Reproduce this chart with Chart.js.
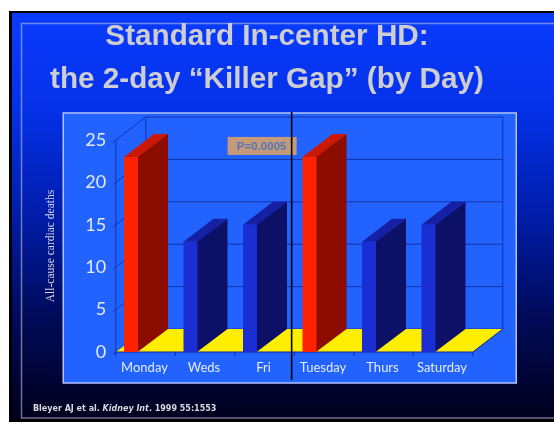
<!DOCTYPE html>
<html><head><meta charset="utf-8">
<script src="https://cdn.jsdelivr.net/npm/chart.js@4.4.1/dist/chart.umd.min.js"></script>
<style>html,body{margin:0;padding:0;background:#fff;}canvas{display:block;}</style>
</head><body>
<canvas id="c" width="554" height="422"></canvas>
<script>
// ---- data ----
const categories = ['Monday', 'Weds', 'Fri', 'Tuesday', 'Thurs', 'Saturday'];
const deaths = [23, 13, 15, 23, 13, 15];
const yTicks = [0, 5, 10, 15, 20, 25];
const gapDays = ['Monday', 'Tuesday'];
const titleLines = ['Standard In-center HD:', 'the 2-day \u201cKiller Gap\u201d (by Day)'];
const yTitle = 'All-cause cardiac deaths';
const pLabel = 'P=0.0005';
const citation = [['Bleyer AJ et al. ', 'bold'], ['Kidney Int', 'italic bold'], ['. 1999 55:1553', 'bold']];

// ---- styles ----
const RED = {front: '#ff2200', side: '#8c0c00', top: '#cc1800'};
const BLUE = {front: '#1a2ed4', side: '#0c1066', top: '#1620a4'};
const pal = i => gapDays.includes(categories[i]) ? RED : BLUE;
const DX = 30, DY = -23;
const GRID = '#1434ac';

const deco = {
  id: 'deco',
  afterLayout(chart) {
    const tb = chart.titleBlock;
    tb.left = 0; tb.right = 534; tb.width = 534;
  },
  beforeDraw(chart) {
    const {ctx, chartArea: ca, width, height} = chart;
    ctx.save();
    ctx.fillStyle = '#ffffff'; ctx.fillRect(0, 0, width, height);
    ctx.fillStyle = '#000000'; ctx.fillRect(9, 11, width - 9, height - 11);
    const g = ctx.createLinearGradient(0, 13, 0, 420);
    g.addColorStop(0, '#0a3cff');
    g.addColorStop(0.25, '#0430e6');
    g.addColorStop(0.5, '#001ca8');
    g.addColorStop(0.75, '#000a58');
    g.addColorStop(1, '#00001c');
    ctx.fillStyle = g; ctx.fillRect(12, 13, width - 12, 406);
    ctx.strokeStyle = 'rgba(185,190,215,0.6)'; ctx.lineWidth = 1.5;
    ctx.strokeRect(21.5, 23.5, width + 10, 394.5);
    const pl = ca.left - 38, pr = ca.right + 58, pt = ca.top - 27, pb = ca.bottom + 31;
    ctx.fillStyle = '#2262ff'; ctx.fillRect(pl, pt, pr - pl, pb - pt);
    ctx.strokeStyle = '#b4c4ff'; ctx.lineWidth = 1.5; ctx.strokeRect(pl, pt, pr - pl, pb - pt);
    ctx.restore();
  },
  beforeDatasetsDraw(chart) {
    const {ctx, scales: {x, y}} = chart;
    const w = (x.right - x.left) / categories.length;
    const ax = x.left + 0.245 * w, axR = x.right + 0.245 * w;
    const y0 = y.getPixelForValue(0), yTop = y.getPixelForValue(yTicks[yTicks.length - 1]);
    ctx.save();
    ctx.strokeStyle = GRID; ctx.lineWidth = 1;
    yTicks.forEach(v => {
      const py = y.getPixelForValue(v);
      ctx.beginPath();
      ctx.moveTo(ax - 3, py + 2.3); ctx.lineTo(ax + DX, py + DY); ctx.lineTo(axR + DX, py + DY);
      ctx.stroke();
    });
    ctx.beginPath();
    ctx.moveTo(ax + DX, yTop + DY); ctx.lineTo(ax + DX, y0 + DY);
    ctx.moveTo(axR + DX, yTop + DY); ctx.lineTo(axR + DX, y0 + DY);
    ctx.moveTo(ax, yTop); ctx.lineTo(ax, y0);
    ctx.stroke();
    ctx.fillStyle = '#ffee00';
    ctx.beginPath();
    ctx.moveTo(ax, y0); ctx.lineTo(axR, y0); ctx.lineTo(axR + DX, y0 + DY); ctx.lineTo(ax + DX, y0 + DY);
    ctx.closePath(); ctx.fill();
    ctx.strokeStyle = '#10249a';
    ctx.beginPath();
    ctx.moveTo(ax, y0); ctx.lineTo(axR, y0); ctx.lineTo(axR + DX, y0 + DY);
    for (let k = 0; k <= categories.length; k++) {
      ctx.moveTo(ax + k * w, y0); ctx.lineTo(ax + k * w, y0 + 4);
    }
    ctx.stroke();
    chart.getDatasetMeta(0).data.forEach((b, i) => {
      const p = pal(i), hw = b.width / 2;
      ctx.fillStyle = p.side;
      ctx.beginPath();
      ctx.moveTo(b.x + hw - 0.5, b.y); ctx.lineTo(b.x + hw + DX, b.y + DY);
      ctx.lineTo(b.x + hw + DX, b.base + DY); ctx.lineTo(b.x + hw - 0.5, b.base);
      ctx.closePath(); ctx.fill();
      ctx.fillStyle = p.top;
      ctx.beginPath();
      ctx.moveTo(b.x - hw, b.y); ctx.lineTo(b.x + hw, b.y);
      ctx.lineTo(b.x + hw + DX, b.y + DY); ctx.lineTo(b.x - hw + DX, b.y + DY);
      ctx.closePath(); ctx.fill();
    });
    ctx.restore();
  },
  afterDatasetsDraw(chart) {
    const {ctx, scales: {x, y}} = chart;
    const w = (x.right - x.left) / categories.length;
    const lx = x.getPixelForValue(2.5) + 0.2 * w;
    const py = y.getPixelForValue(24.3);
    ctx.save();
    ctx.fillStyle = '#c49a7a';
    ctx.fillRect(lx - 64, py - 9, 69, 18);
    ctx.fillStyle = '#5676b4';
    ctx.font = 'bold 11.5px "Liberation Sans", Arial, sans-serif';
    ctx.textAlign = 'center'; ctx.textBaseline = 'middle';
    ctx.fillText(pLabel, lx - 30, py + 0.5);
    ctx.strokeStyle = '#000000'; ctx.lineWidth = 1.6;
    ctx.beginPath(); ctx.moveTo(lx, chart.chartArea.top - 28); ctx.lineTo(lx, chart.chartArea.bottom + 28); ctx.stroke();
    let cx = 33;
    ctx.textAlign = 'left'; ctx.textBaseline = 'alphabetic';
    ctx.fillStyle = '#d8d8de';
    citation.forEach(([t, st]) => {
      ctx.font = st + ' 8px "DejaVu Sans", Verdana, sans-serif';
      ctx.fillText(t, cx, 411);
      cx += ctx.measureText(t).width;
    });
    ctx.restore();
  }
};

new Chart(document.getElementById('c'), {
  type: 'bar',
  data: {
    labels: categories,
    datasets: [{
      label: yTitle,
      data: deaths,
      backgroundColor: categories.map((c, i) => pal(i).front),
      borderWidth: 0,
      barPercentage: 0.235,
      categoryPercentage: 1
    }]
  },
  options: {
    responsive: false,
    animation: false,
    devicePixelRatio: 1,
    layout: {padding: {left: 0, right: 95.75, top: 0, bottom: 0}},
    plugins: {
      legend: {display: false},
      tooltip: {enabled: false},
      title: {
        display: true,
        text: titleLines,
        color: '#cdcdd2',
        font: {family: '"Liberation Sans", Arial, sans-serif', size: 29.7, weight: 'bold', lineHeight: '43px'},
        padding: {top: 15.5, bottom: 38.5}
      }
    },
    scales: {
      x: {
        grid: {display: false, drawTicks: false},
        border: {display: false},
        ticks: {color: '#e4eaff', font: {family: 'Lato', size: 13}, labelOffset: 13.5, padding: 8, maxRotation: 0, autoSkip: false},
        afterFit: s => { s.height = 70; }
      },
      y: {
        min: 0, max: 25,
        grid: {display: false, drawTicks: false},
        border: {display: false},
        ticks: {color: '#e4eaff', font: {family: 'Lato', size: 18}, mirror: true, crossAlign: 'far', padding: -16},
        afterBuildTicks: s => { s.ticks = yTicks.map(v => ({value: v})); },
        title: {display: true, text: yTitle, color: '#d4d6e4', font: {family: '"Liberation Serif", "Times New Roman", serif', size: 11.5}, padding: {top: 44, bottom: 0}},
        afterFit: s => { s.width = 101.25; }
      }
    }
  },
  plugins: [deco]
});
</script>
</body></html>
